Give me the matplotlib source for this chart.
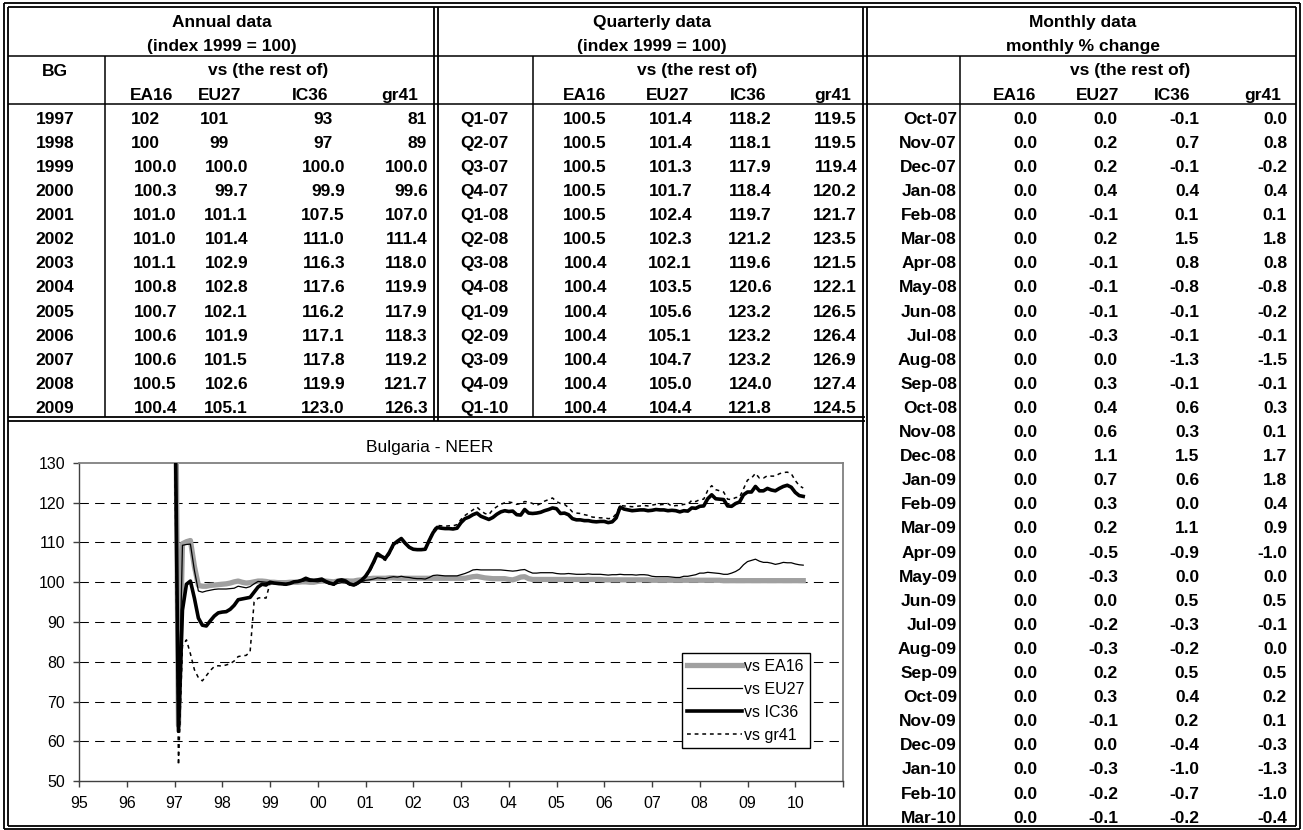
import matplotlib
matplotlib.use('Agg')
import matplotlib.pyplot as plt
import numpy as np

plt.rcParams['font.family'] = ['Liberation Sans', 'DejaVu Sans']

# ---------------- table data ----------------
annual_years = ['1997', '1998', '1999', '2000', '2001', '2002', '2003',
                '2004', '2005', '2006', '2007', '2008', '2009']
annual_decimals = [0, 0, 1, 1, 1, 1, 1, 1, 1, 1, 1, 1, 1]
annual_ea16 = [102, 100, 100.0, 100.3, 101.0, 101.0, 101.1, 100.8, 100.7, 100.6, 100.6, 100.5, 100.4]
annual_eu27 = [101, 99, 100.0, 99.7, 101.1, 101.4, 102.9, 102.8, 102.1, 101.9, 101.5, 102.6, 105.1]
annual_ic36 = [93, 97, 100.0, 99.9, 107.5, 111.0, 116.3, 117.6, 116.2, 117.1, 117.8, 119.9, 123.0]
annual_gr41 = [81, 89, 100.0, 99.6, 107.0, 111.4, 118.0, 119.9, 117.9, 118.3, 119.2, 121.7, 126.3]

quarter_labels = ['Q1-07', 'Q2-07', 'Q3-07', 'Q4-07', 'Q1-08', 'Q2-08', 'Q3-08',
                  'Q4-08', 'Q1-09', 'Q2-09', 'Q3-09', 'Q4-09', 'Q1-10']
quarter_ea16 = [100.5, 100.5, 100.5, 100.5, 100.5, 100.5, 100.4, 100.4, 100.4, 100.4, 100.4, 100.4, 100.4]
quarter_eu27 = [101.4, 101.4, 101.3, 101.7, 102.4, 102.3, 102.1, 103.5, 105.6, 105.1, 104.7, 105.0, 104.4]
quarter_ic36 = [118.2, 118.1, 117.9, 118.4, 119.7, 121.2, 119.6, 120.6, 123.2, 123.2, 123.2, 124.0, 121.8]
quarter_gr41 = [119.5, 119.5, 119.4, 120.2, 121.7, 123.5, 121.5, 122.1, 126.5, 126.4, 126.9, 127.4, 124.5]

month_labels = ['Oct-07', 'Nov-07', 'Dec-07', 'Jan-08', 'Feb-08', 'Mar-08', 'Apr-08',
                'May-08', 'Jun-08', 'Jul-08', 'Aug-08', 'Sep-08', 'Oct-08', 'Nov-08',
                'Dec-08', 'Jan-09', 'Feb-09', 'Mar-09', 'Apr-09', 'May-09', 'Jun-09',
                'Jul-09', 'Aug-09', 'Sep-09', 'Oct-09', 'Nov-09', 'Dec-09', 'Jan-10',
                'Feb-10', 'Mar-10']
month_ea16 = [0.0, 0.0, 0.0, 0.0, 0.0, 0.0, 0.0, 0.0, 0.0, 0.0, 0.0, 0.0, 0.0, 0.0, 0.0,
              0.0, 0.0, 0.0, 0.0, 0.0, 0.0, 0.0, 0.0, 0.0, 0.0, 0.0, 0.0, 0.0, 0.0, 0.0]
month_eu27 = [0.0, 0.2, 0.2, 0.4, -0.1, 0.2, -0.1, -0.1, -0.1, -0.3, 0.0, 0.3, 0.4, 0.6, 1.1,
              0.7, 0.3, 0.2, -0.5, -0.3, 0.0, -0.2, -0.3, 0.2, 0.3, -0.1, 0.0, -0.3, -0.2, -0.1]
month_ic36 = [-0.1, 0.7, -0.1, 0.4, 0.1, 1.5, 0.8, -0.8, -0.1, -0.1, -1.3, -0.1, 0.6, 0.3, 1.5,
              0.6, 0.0, 1.1, -0.9, 0.0, 0.5, -0.3, -0.2, 0.5, 0.4, 0.2, -0.4, -1.0, -0.7, -0.2]
month_gr41 = [0.0, 0.8, -0.2, 0.4, 0.1, 1.8, 0.8, -0.8, -0.2, -0.1, -1.5, -0.1, 0.3, 0.1, 1.7,
              1.8, 0.4, 0.9, -1.0, 0.0, 0.5, -0.1, 0.0, 0.5, 0.2, 0.1, -0.3, -1.3, -1.0, -0.4]

col_names = ['EA16', 'EU27', 'IC36', 'gr41']

# ---------------- chart data (monthly, Jan-1997 .. Mar-2010) ----------------
series_start_year = 1997
neer_ea16 = [
    185, 64.0, 109.7, 110.2, 110.5, 104.0, 99.2, 99.0, 99.0, 99.2, 99.3, 99.4,
    99.5, 99.6, 99.8, 100.1, 100.3, 100.0, 99.8, 99.9, 100.1, 100.3, 100.3, 100.2,
    100.0, 100.0, 99.9, 99.9, 99.9, 100.0, 100.0, 100.0, 100.1, 100.1, 100.0, 100.0,
    100.2, 100.3, 100.3, 100.2, 100.1, 100.3, 100.4, 100.4, 100.3, 100.3, 100.5, 100.6,
    100.8, 100.9, 101.0, 101.0, 101.0, 101.0, 101.1, 101.1, 101.0, 101.0, 101.0, 101.0,
    101.0, 101.0, 101.0, 101.0, 101.0, 101.0, 101.0, 101.0, 101.0, 101.0, 101.0, 101.0,
    101.0, 101.0, 101.2, 101.4, 101.5, 101.3, 101.1, 101.0, 100.9, 100.9, 100.9, 100.9,
    100.7, 100.6, 100.9, 101.3, 101.4, 100.9, 100.7, 100.7, 100.7, 100.7, 100.7, 100.7,
    100.7, 100.7, 100.7, 100.7, 100.7, 100.7, 100.7, 100.7, 100.7, 100.7, 100.7, 100.7,
    100.6, 100.6, 100.6, 100.6, 100.6, 100.6, 100.6, 100.6, 100.6, 100.6, 100.6, 100.6,
    100.5, 100.5, 100.5, 100.5, 100.5, 100.5, 100.5, 100.5, 100.5, 100.5, 100.5, 100.5,
    100.5, 100.5, 100.5, 100.5, 100.5, 100.5, 100.4, 100.4, 100.4, 100.4, 100.4, 100.4,
    100.4, 100.4, 100.4, 100.4, 100.4, 100.4, 100.4, 100.4, 100.4, 100.4, 100.4, 100.4,
    100.4, 100.4, 100.4]
neer_eu27 = [
    180, 63.5, 109.3, 109.5, 109.6, 103.0, 97.8, 97.5, 97.8, 98.0, 98.2, 98.3,
    98.3, 98.3, 98.4, 98.5, 99.0, 98.8, 98.6, 98.9, 99.6, 100.2, 100.1, 100.0,
    100.0, 99.9, 99.8, 99.7, 99.7, 99.8, 100.0, 100.1, 100.2, 100.4, 100.2, 100.2,
    100.1, 100.3, 99.9, 99.6, 99.3, 99.7, 99.9, 99.8, 99.4, 99.2, 99.5, 100.1,
    100.5, 100.6, 100.8, 101.1, 101.0, 100.9, 101.2, 101.4, 101.3, 101.5, 101.3, 101.2,
    101.0, 100.9, 100.9, 100.8, 101.2, 101.7, 101.8, 101.7, 101.6, 101.6, 101.6, 101.6,
    101.9, 102.2, 102.6, 103.1, 103.2, 103.1, 103.1, 103.1, 103.1, 103.1, 103.1, 103.0,
    102.9, 102.8, 102.9, 103.1, 103.2, 102.7, 102.3, 102.3, 102.4, 102.4, 102.4, 102.4,
    102.2, 102.1, 102.1, 102.2, 102.1, 102.0, 102.0, 102.0, 102.1, 102.0, 102.0, 102.0,
    101.9, 101.8, 101.9, 101.9, 102.0, 101.9, 101.9, 101.9, 101.8, 101.9, 101.9, 101.8,
    101.5, 101.4, 101.4, 101.4, 101.4, 101.3, 101.2, 101.2, 101.5, 101.5, 101.7, 101.9,
    102.3, 102.3, 102.5, 102.4, 102.3, 102.2, 102.0, 102.0, 102.3, 102.7, 103.3, 104.4,
    105.2, 105.5, 105.8, 105.3, 105.0, 105.0, 104.8, 104.5, 104.7, 105.0, 104.9, 104.9,
    104.6, 104.4, 104.3]
neer_ic36 = [
    160, 62.5, 93.0, 99.5, 100.3, 96.0, 91.0, 89.2, 89.0, 90.3, 91.5, 92.3,
    92.5, 92.6, 93.2, 94.2, 95.6, 95.8, 96.0, 96.2, 97.5, 98.8, 99.5, 99.3,
    100.0, 99.8, 99.7, 99.6, 99.5, 99.7, 100.1, 100.2, 100.5, 101.0, 100.6, 100.5,
    100.6, 100.8, 100.2, 99.8, 99.5, 100.4, 100.6, 100.3, 99.6, 99.3, 99.8, 100.5,
    101.5, 103.0, 105.0, 107.2, 106.5, 106.0, 107.5, 109.5, 110.3, 111.0, 109.8, 108.8,
    108.3, 108.2, 108.2, 108.3, 110.5, 112.5, 113.8, 113.6, 113.5, 113.5, 113.4, 113.6,
    115.0, 116.0, 116.4, 117.0, 117.4, 116.6, 116.2, 115.8, 116.3, 117.1, 117.7, 118.0,
    117.8, 117.9, 117.0, 116.9, 118.3, 117.4, 117.3, 117.4, 117.6, 118.0, 118.3, 118.7,
    118.5, 117.3, 117.4, 117.0, 116.0, 115.7, 115.7, 115.5, 115.5, 115.3, 115.2, 115.3,
    115.3, 115.0, 115.2, 116.2, 118.9, 118.4, 118.2, 118.0, 118.1, 118.2, 118.2, 118.0,
    118.1, 118.3, 118.2, 118.2, 118.0, 118.1, 118.0, 117.7, 118.0, 117.9, 118.7, 118.6,
    119.1, 119.2, 121.0, 122.0, 121.0, 120.9, 120.8, 119.2, 119.1, 119.8, 120.2, 122.0,
    122.7, 122.7, 124.1, 123.0, 123.0, 123.6, 123.2, 123.0, 123.6, 124.1, 124.4, 123.9,
    122.6, 121.8, 121.6]
neer_gr41 = [
    140, 54.0, 84.0, 85.5, 82.0, 78.0, 76.0, 75.2, 76.5, 77.8, 78.8, 79.0,
    78.9, 79.2, 79.5, 80.2, 81.3, 81.5, 81.6, 82.5, 95.0, 96.0, 96.2, 96.0,
    99.7, 99.6, 99.5, 99.4, 99.3, 99.6, 100.0, 100.2, 100.5, 101.0, 100.6, 100.5,
    100.4, 100.5, 99.9, 99.5, 99.2, 100.1, 100.3, 100.0, 99.3, 99.0, 99.5, 100.3,
    101.2, 102.6, 104.5, 106.7, 106.0, 105.5, 107.0, 109.0, 109.8, 110.6, 109.6, 108.7,
    108.3, 108.2, 108.3, 108.4, 110.8, 113.0, 114.3, 114.2, 114.1, 114.2, 114.2, 114.5,
    115.8, 116.8, 117.5, 118.2, 118.9, 118.0, 117.3, 117.0, 118.3, 119.0, 119.6, 120.0,
    120.2, 120.0, 119.6, 119.8, 120.3, 120.2, 119.8, 119.3, 119.8, 120.4, 120.8, 121.2,
    120.3, 119.8, 119.6, 118.8, 117.7, 117.4, 117.3, 117.0, 116.8, 116.4, 116.3, 116.2,
    116.2, 116.0, 116.1, 117.2, 119.3, 119.2, 119.1, 119.0, 119.1, 119.2, 119.3, 119.2,
    119.4, 119.6, 119.5, 119.6, 119.8, 119.1, 119.3, 119.3, 119.6, 119.6, 120.6, 120.3,
    120.8, 120.9, 123.1, 124.3, 123.3, 123.0, 122.7, 120.9, 120.8, 121.3, 121.4, 123.5,
    125.7, 126.2, 127.4, 126.2, 126.2, 126.8, 126.7, 126.7, 127.3, 127.6, 127.7, 127.3,
    125.6, 124.3, 123.7]

legend_labels = ['vs EA16', 'vs EU27', 'vs IC36', 'vs gr41']
chart_title = 'Bulgaria - NEER'
x_tick_years = [1995, 1996, 1997, 1998, 1999, 2000, 2001, 2002, 2003, 2004,
                2005, 2006, 2007, 2008, 2009, 2010, 2011]
x_tick_labels = ['95', '96', '97', '98', '99', '00', '01', '02', '03', '04',
                 '05', '06', '07', '08', '09', '10', '']
y_ticks = [50, 60, 70, 80, 90, 100, 110, 120, 130]

# ---------------- figure ----------------
W, H = 1303, 830
fig = plt.figure(figsize=(W / 100, H / 100), dpi=100)
tax = fig.add_axes([0, 0, 1, 1])
tax.set_xlim(0, W)
tax.set_ylim(H, 0)
tax.axis('off')

LW = 1.1


def hline(y, x0, x1, lw=LW):
    tax.plot([x0, x1], [y, y], color='black', lw=lw, solid_capstyle='butt')


def vline(x, y0, y1, lw=LW):
    tax.plot([x, x], [y0, y1], color='black', lw=lw, solid_capstyle='butt')


ROW0, RH = 7.5, 24.1


def ry(k):
    return ROW0 + k * RH


def txt(x, k, s, ha='center'):
    tax.text(x, ry(k) + 19.8, s, ha=ha, va='baseline', fontsize=12.5,
             fontweight='bold', color='black')


# borders
for (x0, y0, x1, y1) in [(4, 3, 1300, 829), (8, 7, 1296, 825.5)]:
    hline(y0, x0, x1, 1.3)
    hline(y1, x0, x1, 1.3)
    vline(x0, y0, y1, 1.3)
    vline(x1, y0, y1, 1.3)

y17 = ry(17)
for dx in (434, 438):
    vline(dx, 7, y17 + 3.5, 1.3)
for dx in (863, 867):
    vline(dx, 7, 825.5, 1.3)
for dy in (y17 - 0.5, y17 + 3.5):
    hline(dy, 8, 865, 1.3)
hline(ry(2), 8, 1296)
hline(ry(4), 8, 1296)
vline(105, ry(2), y17 - 0.5)
vline(533, ry(2), y17 - 0.5)
vline(960, ry(2), 825.5)

# ---- annual block ----
txt(222, 0, 'Annual data')
txt(222, 1, '(index 1999 = 100)')
txt(55, 2, 'BG')
txt(268, 2, 'vs (the rest of)')
a_hdr = [152, 220, 310, 400]
a_right = [177, 248, 345, 428]
a_right_int = [160, 229, 333, 427]
for c, name in enumerate(col_names):
    txt(a_hdr[c], 3, name)
for i, yr in enumerate(annual_years):
    k = 4 + i
    txt(55, k, yr)
    for c, arr in enumerate([annual_ea16, annual_eu27, annual_ic36, annual_gr41]):
        if annual_decimals[i] == 0:
            txt(a_right_int[c], k, '{:.0f}'.format(arr[i]), ha='right')
        else:
            txt(a_right[c], k, '{:.1f}'.format(arr[i]), ha='right')

# ---- quarterly block ----
txt(652, 0, 'Quarterly data')
txt(652, 1, '(index 1999 = 100)')
txt(697, 2, 'vs (the rest of)')
q_hdr = [585, 668, 748, 833]
q_right = [607, 692, 772, 857]
for c, name in enumerate(col_names):
    txt(q_hdr[c], 3, name)
for i, lab in enumerate(quarter_labels):
    k = 4 + i
    txt(484, k, lab)
    for c, arr in enumerate([quarter_ea16, quarter_eu27, quarter_ic36, quarter_gr41]):
        txt(q_right[c], k, '{:.1f}'.format(arr[i]), ha='right')

# ---- monthly block ----
txt(1083, 0, 'Monthly data')
txt(1083, 1, 'monthly % change')
txt(1130, 2, 'vs (the rest of)')
m_hdr = [1015, 1098, 1172, 1263]
m_right = [1038, 1118, 1199, 1287]
for c, name in enumerate(col_names):
    txt(m_hdr[c], 3, name)
for i, lab in enumerate(month_labels):
    k = 4 + i
    txt(957, k, lab, ha='right')
    for c, arr in enumerate([month_ea16, month_eu27, month_ic36, month_gr41]):
        txt(m_right[c], k, '{:.1f}'.format(arr[i]), ha='right')

# ---------------- chart ----------------
ax_l, ax_r, ax_t, ax_b = 79, 843, 463, 781
ax = fig.add_axes([ax_l / W, (H - ax_b) / H, (ax_r - ax_l) / W, (ax_b - ax_t) / H])
ax.set_facecolor('white')

n = len(neer_ea16)
xs = series_start_year + np.arange(n) / 12.0

l1, = ax.plot(xs, neer_ea16, color='#a0a0a0', lw=3.8, solid_joinstyle='round', zorder=3)
l2, = ax.plot(xs, neer_eu27, color='black', lw=0.9, zorder=4)
l3, = ax.plot(xs, neer_ic36, color='black', lw=2.6, solid_joinstyle='round', zorder=5)
l4, = ax.plot(xs, neer_gr41, color='black', lw=1.1, linestyle=(0, (2.5, 2.5)), zorder=6)

ax.set_xlim(x_tick_years[0], x_tick_years[-1])
ax.set_ylim(y_ticks[0], y_ticks[-1])
ax.set_xticks(x_tick_years)
ax.set_xticklabels(x_tick_labels)
ax.set_yticks(y_ticks)
ax.tick_params(axis='both', direction='out', length=4, width=1.0, color='#404040',
               labelsize=11.5, labelcolor='black')
ax.tick_params(axis='y', pad=6)
ax.tick_params(axis='x', pad=7)

ax.yaxis.grid(True, color='black', lw=0.75, linestyle=(0, (9, 6)))
gls = ax.get_ygridlines()
gls[0].set_visible(False)
gls[-1].set_visible(False)
ax.set_axisbelow(True)

for side in ('left', 'bottom'):
    ax.spines[side].set_color('#404040')
    ax.spines[side].set_linewidth(1.0)
for side in ('top', 'right'):
    ax.spines[side].set_color('#808080')
    ax.spines[side].set_linewidth(1.3)

leg = ax.legend([l1, l2, l3, l4], legend_labels, loc='upper left',
                bbox_to_anchor=(0.789, 0.4025), frameon=True, fancybox=False,
                edgecolor='black', framealpha=1, borderaxespad=0,
                handlelength=3.4, handletextpad=0.15, labelspacing=0.5,
                borderpad=0.35, fontsize=11.5)
leg.get_frame().set_linewidth(1.0)
leg.set_zorder(10)

fig.text(430 / W, 1 - 447 / H, chart_title, ha='center', va='center', fontsize=12.5)

fig.savefig('out.png', dpi=100)
